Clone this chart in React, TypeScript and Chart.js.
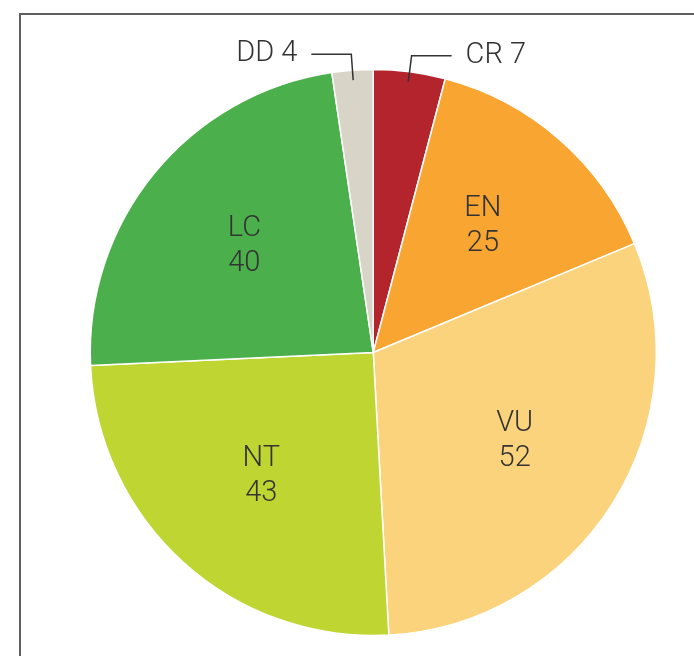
import React, { useEffect, useRef } from "react";
import { Chart, registerables } from "chart.js";

Chart.register(...registerables);

const categories = ["CR", "EN", "VU", "NT", "LC", "DD"];
const values = [7, 25, 52, 43, 40, 4];
const colors = ["#b3242d", "#f8a532", "#fbd37c", "#bfd632", "#4bb04b", "#d9d4c8"];
const outsideThreshold = 10;

const FONT = "300 29px Roboto";
const TEXT_COLOR = "#333333";

const labelPlugin = {
  id: "sliceLabels",
  afterDatasetsDraw(chart: any) {
    const ctx = chart.ctx;
    const meta = chart.getDatasetMeta(0);
    ctx.save();
    ctx.font = FONT;
    ctx.fillStyle = TEXT_COLOR;
    ctx.strokeStyle = TEXT_COLOR;
    ctx.lineWidth = 1.5;
    ctx.textBaseline = "middle";
    meta.data.forEach((arc: any, i: number) => {
      const p = arc.getProps(["x", "y", "startAngle", "endAngle", "outerRadius"], true);
      const mid = (p.startAngle + p.endAngle) / 2;
      const cos = Math.cos(mid);
      const sin = Math.sin(mid);
      const v = values[i];
      if (v >= outsideThreshold) {
        const r = p.outerRadius * 0.59;
        const x = p.x + cos * r;
        const y = p.y + sin * r;
        ctx.textAlign = "center";
        ctx.fillText(categories[i], x, y - 17.5);
        ctx.fillText(String(v), x, y + 17.5);
      } else {
        const r1 = p.outerRadius * 0.965;
        const r2 = p.outerRadius * 1.057;
        const x1 = p.x + cos * r1;
        const y1 = p.y + sin * r1;
        const x2 = p.x + cos * r2;
        const y2 = p.y + sin * r2;
        const dir = cos >= 0 ? 1 : -1;
        const x3 = x2 + dir * 40;
        ctx.beginPath();
        ctx.moveTo(x1, y1);
        ctx.lineTo(x2, y2);
        ctx.lineTo(x3, y2);
        ctx.stroke();
        ctx.textAlign = dir > 0 ? "left" : "right";
        ctx.fillText(categories[i] + " " + v, x3 + dir * 14, y2);
      }
    });
    ctx.restore();
  },
};

export default function App() {
  const ref = useRef<HTMLCanvasElement>(null);
  useEffect(() => {
    if (!ref.current) return;
    const chart = new Chart(ref.current, {
      type: "pie",
      data: {
        labels: categories,
        datasets: [
          {
            data: values,
            backgroundColor: colors,
            borderColor: "#ffffff",
            borderWidth: 1.5,
          },
        ],
      },
      options: {
        animation: false,
        responsive: false,
        maintainAspectRatio: false,
        radius: 283,
        layout: { padding: { left: 60, right: 7.5, top: 56, bottom: 7 } },
        plugins: {
          legend: { display: false },
          tooltip: { enabled: false },
        },
      } as any,
      plugins: [labelPlugin],
    });
    return () => chart.destroy();
  }, []);
  return (
    <div
      style={{
        position: "absolute",
        left: 0,
        top: 0,
        width: 694,
        height: 656,
        overflow: "hidden",
        background: "#ffffff",
      }}
    >
      <div
        style={{
          position: "absolute",
          left: 19,
          top: 13,
          width: 900,
          height: 900,
          border: "2px solid #5f5f5f",
        }}
      />
      <canvas
        ref={ref}
        width={694}
        height={656}
        style={{ position: "absolute", left: 0, top: 0, width: 694, height: 656 }}
      />
    </div>
  );
}
